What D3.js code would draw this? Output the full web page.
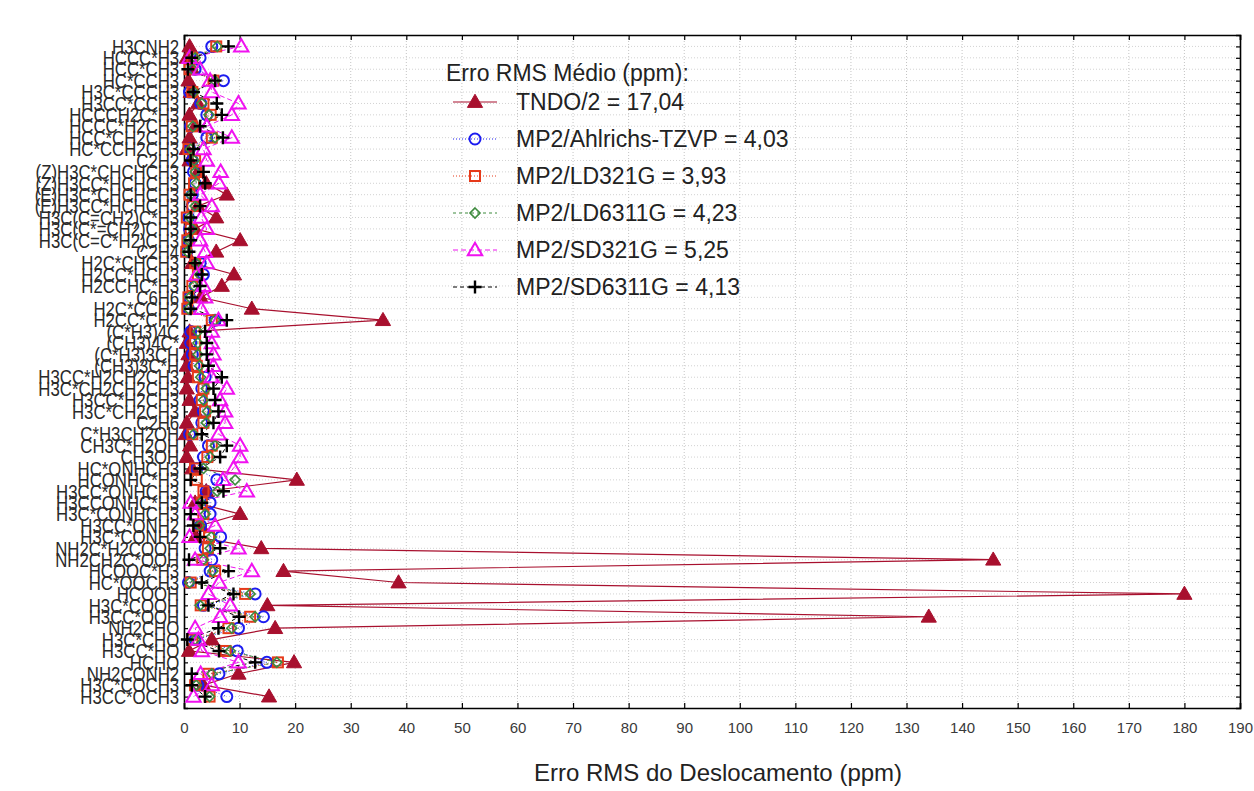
<!DOCTYPE html>
<html>
<head>
<meta charset="utf-8">
<script src="https://cdn.jsdelivr.net/npm/d3@7"></script>
<style>
  body { margin: 0; background: #fff; }
  svg { display: block; }
</style>
</head>
<body>
<script>
// molecules / carbon atoms on the y axis (top to bottom)
var categories = [
  "H3CNH2", "HCCC*H3", "HCC*CH3", "HC*CCH3", "H3C*CCCH3", "H3CC*CCH3",
  "HCCCH2C*H3", "HCCC*H2CH3", "HCC*CH2CH3", "HC*CCH2CH3", "C2H2",
  "(Z)H3C*CHCHCH3", "(Z)H3CC*HCHCH3", "(E)H3C*CHCHCH3", "(E)H3CC*HCHCH3",
  "H3C(C=CH2)C*H3", "H3C(C*=CH2)CH3", "H3C(C=C*H2)CH3", "C2H4",
  "H2C*CHCH3", "H2CC*HCH3", "H2CCHC*H3", "C6H6", "H2C*CCH2", "H2CC*CH2",
  "(C*H3)4C", "(CH3)4C*", "(C*H3)3CH", "(CH3)3C*H",
  "H3CC*H2CH2CH3", "H3C*CH2CH2CH3", "H3CC*H2CH3", "H3C*CH2CH3", "C2H6",
  "C*H3CH2OH", "CH3C*H2OH", "CH3OH", "HC*ONHCH3", "HCONHC*H3",
  "H3CC*ONHCH3", "H3CCONHC*H3", "H3C*CONHCH3", "H3CC*ONH2", "H3C*CONH2",
  "NH2C*H2COOH", "NH2CH2C*OOH", "HCOOC*H3", "HC*OOCH3", "HCOOH",
  "H3C*COOH", "H3CC*OOH", "NH2CHO", "H3C*CHO", "H3CC*HO", "HCHO",
  "NH2CONH2", "H3C*COCH3", "H3CC*OCH3"
];

var tndo = [1.0, 0.5, 1.5, 0.8, 1.2, 2.5, 1.0, 2.0, 1.0, 0.5, 1.0, 2.5, 4.0, 7.7, 2.5, 5.8, 2.0, 10.1, 5.8, 1.5,
  9.0, 6.8, 3.0, 12.2, 35.8, 1.0, 0.5, 0.8, 0.5, 0.7, 0.5, 1.0, 2.0, 0.5, 0.3, 1.1, 0.5, 1.5, 20.3, 4.0,
  2.0, 10.1, 3.0, 2.0, 13.9, 145.6, 17.9, 38.6, 180.0, 15.0, 134.0, 16.4, 5.0, 0.9, 19.8, 9.8, 3.5, 15.3];
var ahlrichs = [5.0, 2.9, 2.0, 7.1, 1.0, 3.0, 4.1, 1.2, 4.1, 1.0, 1.5, 1.7, 2.0, 1.5, 1.5, 0.8, 1.0, 0.8, 0.5, 2.9,
  3.5, 2.0, 1.0, 0.8, 5.6, 1.2, 1.2, 1.5, 1.8, 3.8, 3.2, 2.9, 3.5, 3.2, 1.0, 4.4, 3.5, 2.3, 5.9, 4.0,
  4.7, 4.7, 3.0, 6.6, 3.8, 5.0, 4.7, 0.8, 12.8, 3.5, 14.3, 9.8, 2.0, 9.6, 14.9, 6.3, 2.5, 7.7];
var ld321 = [5.8, 1.5, 1.0, 5.3, 1.5, 3.5, 4.8, 1.4, 5.0, 0.8, 2.0, 2.2, 1.8, 1.0, 1.5, 0.5, 1.2, 0.6, 0.4, 2.0,
  2.5, 1.5, 0.8, 0.6, 5.0, 2.0, 2.0, 2.0, 2.3, 2.5, 3.5, 3.2, 3.8, 3.5, 1.5, 5.0, 4.2, 2.0, 2.3, 3.5,
  3.2, 3.5, 2.5, 4.5, 4.3, 3.3, 5.6, 1.2, 11.0, 3.0, 11.9, 8.0, 1.5, 7.5, 16.9, 4.4, 2.0, 4.6];
var ld6311 = [6.0, 2.0, 1.5, 5.5, 1.8, 3.2, 4.5, 1.6, 5.6, 1.2, 1.8, 2.0, 2.2, 1.2, 2.0, 1.0, 1.5, 0.8, 0.6, 2.2,
  2.8, 1.8, 1.0, 0.8, 5.6, 2.5, 2.5, 2.5, 2.8, 3.0, 4.0, 3.5, 4.2, 4.0, 1.7, 5.6, 4.7, 3.5, 9.2, 6.0,
  3.0, 3.8, 2.8, 4.9, 4.7, 3.5, 5.2, 1.0, 11.9, 2.9, 12.8, 8.6, 2.0, 8.3, 16.7, 5.0, 2.2, 4.6];
var sd321 = [10.3, 1.0, 2.9, 4.7, 5.0, 9.8, 8.6, 4.1, 8.6, 3.5, 4.1, 6.6, 6.3, 2.9, 5.0, 3.1, 4.1, 2.9, 3.8, 4.1,
  2.3, 3.5, 3.8, 3.1, 6.2, 5.0, 5.0, 5.3, 5.3, 5.0, 7.7, 6.5, 7.4, 7.4, 6.2, 10.1, 10.1, 8.9, 7.0, 11.3,
  1.2, 2.0, 5.6, 1.0, 9.8, 2.0, 12.2, 6.3, 4.4, 8.3, 6.5, 2.0, 2.6, 3.2, 9.8, 3.0, 5.0, 1.7];
var sd6311 = [8.0, 1.4, 0.7, 5.6, 1.7, 5.9, 6.8, 2.9, 7.0, 1.7, 1.2, 3.5, 3.8, 1.2, 2.9, 1.2, 1.2, 1.2, 0.9, 2.0,
  3.2, 2.9, 1.4, 1.2, 7.7, 3.8, 4.1, 4.1, 4.4, 6.8, 5.3, 5.6, 6.2, 5.3, 3.2, 7.7, 6.5, 2.9, 1.2, 7.1,
  3.2, 1.2, 1.7, 2.9, 6.5, 0.9, 8.0, 3.2, 8.9, 4.4, 9.9, 6.2, 0.6, 6.3, 12.8, 1.4, 1.4, 3.8];

var seriesNames = ["TNDO/2 = 17,04", "MP2/Ahlrichs-TZVP = 4,03", "MP2/LD321G = 3,93",
  "MP2/LD6311G = 4,23", "MP2/SD321G = 5,25", "MP2/SD6311G = 4,13"];
var xTickValues = [0, 10, 20, 30, 40, 50, 60, 70, 80, 90, 100, 110, 120, 130, 140, 150, 160, 170, 180, 190];

var legendTitle = "Erro RMS Médio (ppm):";
var xTitle = "Erro RMS do Deslocamento (ppm)";

(function() {
  var W = 1254, H = 791;
  var pLeft = 184, pRight = 1240, pTop = 35, pBottom = 708;

  var series = [
    {name: seriesNames[0], values: tndo,     color: "#a8102e", dash: null,  sym: "tri",  fill: true},
    {name: seriesNames[1], values: ahlrichs, color: "#1c1cf0", dash: "1,2", sym: "circle"},
    {name: seriesNames[2], values: ld321,    color: "#e63a1a", dash: "1,2", sym: "square"},
    {name: seriesNames[3], values: ld6311,   color: "#3d8a3d", dash: "3,3", sym: "diamond"},
    {name: seriesNames[4], values: sd321,    color: "#f012f0", dash: "5,3", sym: "tri"},
    {name: seriesNames[5], values: sd6311,   color: "#000000", dash: "4,3", sym: "plus"}
  ];

  var svg = d3.select("body").append("svg")
    .attr("width", W).attr("height", H)
    .style("font-family", "'Liberation Sans', Arial, sans-serif");

  var x = d3.scaleLinear().domain([0, 190]).range([pLeft, pRight]);
  var y = d3.scalePoint().domain(d3.range(categories.length)).range([pTop, pBottom]).padding(1);

  // grid
  var grid = svg.append("g");
  grid.selectAll(".vg").data(xTickValues.slice(1, -1)).enter().append("line")
    .attr("x1", function(d) { return x(d); }).attr("x2", function(d) { return x(d); })
    .attr("y1", pTop).attr("y2", pBottom)
    .attr("stroke", "#c4c4c4").attr("stroke-dasharray", "1,2");
  grid.selectAll(".hg").data(d3.range(categories.length)).enter().append("line")
    .attr("x1", pLeft).attr("x2", pRight)
    .attr("y1", function(d) { return y(d); }).attr("y2", function(d) { return y(d); })
    .attr("stroke", "#d2d2d2").attr("stroke-dasharray", "1,2");

  // axes
  var xAxis = svg.append("g").attr("transform", "translate(0," + pBottom + ")")
    .call(d3.axisBottom(x).tickValues(xTickValues).tickSize(-5).tickPadding(14));
  var xTop = svg.append("g").attr("transform", "translate(0," + pTop + ")")
    .call(d3.axisTop(x).tickValues(xTickValues).tickSize(-5).tickFormat(""));
  var yAxis = svg.append("g").attr("transform", "translate(" + pLeft + ",0)")
    .call(d3.axisLeft(y).tickSize(-4).tickPadding(6).tickFormat(function(i) { return categories[i]; }));
  var yRight = svg.append("g").attr("transform", "translate(" + pRight + ",0)")
    .call(d3.axisRight(y).tickSize(-4).tickFormat(""));

  [xAxis, xTop, yAxis, yRight].forEach(function(g) {
    g.select(".domain").attr("stroke", "#000").attr("stroke-width", 1.6);
    g.selectAll(".tick line").attr("stroke", "#000").attr("stroke-width", 1.2);
  });

  xAxis.selectAll("text")
    .style("font-family", "'Liberation Sans Narrow', 'Liberation Sans', sans-serif")
    .style("font-size", "15px").attr("fill", "#3a3a3a");

  // the molecule labels are tall and condensed, so squeeze them horizontally
  yAxis.selectAll("text")
    .style("font-family", "'Liberation Sans Narrow', 'Liberation Sans', sans-serif")
    .style("font-size", "21px").attr("fill", "#2a2a2a")
    .attr("transform", "scale(0.8,1)");

  // series lines
  var line = d3.line()
    .x(function(d) { return x(d); })
    .y(function(d, i) { return y(i); });

  series.forEach(function(s) {
    svg.append("path")
      .datum(s.values)
      .attr("d", line)
      .attr("fill", "none")
      .attr("stroke", s.color)
      .attr("stroke-width", s.dash ? 1 : 1.2)
      .attr("stroke-dasharray", s.dash);
  });

  function drawMarker(g, s) {
    if (s.sym === "tri") {
      g.append("path").attr("d", d3.symbol().type(d3.symbolTriangle).size(s.fill ? 100 : 90)())
        .attr("transform", "translate(0,1)")
        .attr("fill", s.fill ? s.color : "none")
        .attr("stroke", s.color).attr("stroke-width", s.fill ? 1 : 2);
    } else if (s.sym === "circle") {
      g.append("circle").attr("r", 5.5).attr("fill", "none")
        .attr("stroke", s.color).attr("stroke-width", 2);
    } else if (s.sym === "square") {
      g.append("rect").attr("x", -5).attr("y", -5).attr("width", 10).attr("height", 10)
        .attr("fill", "none").attr("stroke", s.color).attr("stroke-width", 2);
    } else if (s.sym === "diamond") {
      g.append("path").attr("d", "M0,-5L5,0L0,5L-5,0Z")
        .attr("fill", "none").attr("stroke", s.color).attr("stroke-width", 1.6);
    } else {
      g.append("path").attr("d", "M-6.5,0H6.5M0,-6.5V6.5")
        .attr("stroke", s.color).attr("stroke-width", 2.4);
    }
  }

  series.forEach(function(s) {
    var gs = svg.append("g");
    s.values.forEach(function(v, i) {
      var g = gs.append("g").attr("transform", "translate(" + x(v) + "," + y(i) + ")");
      drawMarker(g, s);
    });
  });

  // legend
  var leg = svg.append("g");
  leg.append("text").attr("x", 446).attr("y", 81)
    .style("font-size", "23px").attr("fill", "#222").text(legendTitle);
  series.forEach(function(s, i) {
    var cy = 102 + i * 37;
    var g = leg.append("g").attr("transform", "translate(0," + cy + ")");
    g.append("line").attr("x1", 453).attr("x2", 497).attr("y1", 0).attr("y2", 0)
      .attr("stroke", s.color).attr("stroke-width", s.dash ? 1 : 1.2)
      .attr("stroke-dasharray", s.dash);
    drawMarker(g.append("g").attr("transform", "translate(475,0)"), s);
    g.append("text").attr("x", 516).attr("y", 8)
      .style("font-size", "23px").attr("fill", "#222").text(s.name);
  });

  // x title
  svg.append("text").attr("x", (pLeft + pRight) / 2 + 6).attr("y", 781)
    .attr("text-anchor", "middle").style("font-size", "24px").attr("fill", "#222")
    .text(xTitle);
})();
</script>
</body>
</html>
